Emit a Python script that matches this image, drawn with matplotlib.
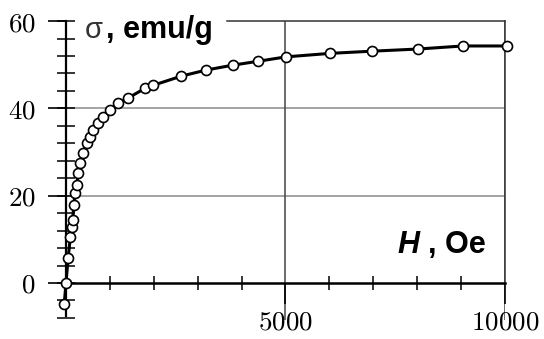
import matplotlib
matplotlib.use('Agg')
import matplotlib.pyplot as plt
from matplotlib.ticker import FixedLocator, MultipleLocator, FuncFormatter

plt.rcParams['mathtext.fontset'] = 'cm'

# magnetisation curve
field_oe = [-40, 0, 50, 100, 130, 150, 180, 205, 245, 275, 320, 390, 470, 545,
            620, 730, 850, 1000, 1190, 1420, 1800, 1990, 2630, 3200, 3800,
            4380, 5010, 6010, 6960, 8020, 9040, 10040]
sigma_emu_g = [-4.8, 0, 5.8, 10.6, 12.8, 14.4, 17.9, 20.6, 22.4, 25.2, 27.5,
               29.8, 32.0, 33.4, 35.0, 36.6, 38.0, 39.6, 41.2, 42.4, 44.6,
               45.3, 47.4, 48.8, 49.9, 50.8, 51.8, 52.6, 53.1, 53.6, 54.3, 54.3]

x_major = [5000, 10000]
y_major = [0, 20, 40, 60]
y_grid = [20, 40]

fig = plt.figure(figsize=(5.44, 3.39), dpi=100)
ax = fig.add_axes([0.1213, 0.0558, 0.807, 0.882])
ax.set_xlim(0, 10000)
ax.set_ylim(-8.5, 60)

# frame and grid
ax.hlines(y_grid, 0, 10000, color='#8a8a8a', lw=1.1, zorder=1)
ax.grid(axis='x', which='major', color='#444444', lw=1.1, zorder=1)
ax.spines['left'].set_bounds(-7.5, 60)
ax.spines['left'].set_linewidth(1.6)
ax.spines['bottom'].set_position(('data', 0))
ax.spines['bottom'].set_bounds(0, 10000)
ax.spines['bottom'].set_linewidth(1.8)
ax.spines['right'].set_bounds(0, 60)
ax.spines['right'].set_linewidth(1.1)
ax.spines['right'].set_color('#333333')
ax.spines['top'].set_bounds(3670, 10000)
ax.spines['top'].set_linewidth(1.1)
ax.spines['top'].set_color('#333333')

ax.plot(field_oe, sigma_emu_g, color='black', lw=2.2, marker='o', ms=7.2,
        mfc='white', mec='black', mew=1.2, clip_on=False, zorder=3)

# ticks
fmt = FuncFormatter(lambda v, p: f'${v:.0f}$')
ax.xaxis.set_major_locator(FixedLocator(x_major))
ax.xaxis.set_minor_locator(MultipleLocator(1000))
ax.xaxis.set_major_formatter(fmt)
ax.yaxis.set_major_locator(FixedLocator(y_major))
ax.yaxis.set_minor_locator(MultipleLocator(4))
ax.yaxis.set_major_formatter(fmt)
ax.yaxis.remove_overlapping_locs = False
ax.tick_params(axis='x', which='major', direction='out', length=15, width=1.2,
               pad=4, labelsize=19.5)
ax.tick_params(axis='x', which='minor', direction='inout', length=9.5, width=1.1)
ax.tick_params(axis='y', which='major', direction='out', length=13, width=1.2,
               pad=9, labelsize=19.5)
ax.tick_params(axis='y', which='minor', direction='inout', length=13, width=1.1)

# axis labels inside the frame
ax.text(433, 56.1, 'σ', fontsize=21, family='Liberation Sans', color='#333333',
        va='baseline', ha='left')
ax.text(920, 56.1, ', emu/g', fontsize=22, family='Liberation Sans',
        fontweight='bold', va='baseline', ha='left')
ax.text(7540, 6.9, 'H', fontsize=22, family='Liberation Sans',
        fontweight='bold', style='italic', va='baseline', ha='left')
ax.text(8250, 6.9, ', Oe', fontsize=22, family='Liberation Sans',
        fontweight='bold', va='baseline', ha='left')

fig.savefig('out.png', dpi=100, facecolor='white')
